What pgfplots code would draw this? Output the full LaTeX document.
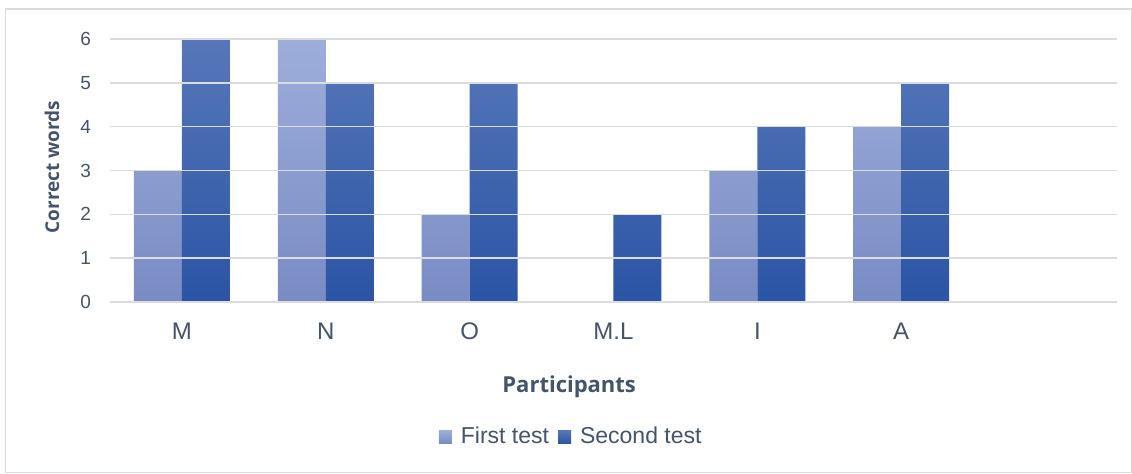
\documentclass[border=0pt]{standalone}
\usepackage{fontspec}
\setmainfont{Liberation Sans}
\newfontfamily\tfont{Open Sans}
\usepackage{pgfplots}
\pgfplotsset{compat=1.18}
\definecolor{txt}{HTML}{44546A}
\definecolor{gridc}{HTML}{D9DDE2}
\definecolor{aTop}{HTML}{9EAEDB}
\definecolor{aBot}{HTML}{788BC4}
\definecolor{bTop}{HTML}{5777B9}
\definecolor{bBot}{HTML}{2B54A5}
\begin{document}
\begin{tikzpicture}[x=1pt,y=1pt]
\useasboundingbox (0,0) rectangle (566,236.5);
\draw[gridc, line width=0.6pt] (2.8,0.3) rectangle (565.7,232);
\begin{axis}[
  at={(55pt,85.5pt)}, anchor=south west,
  scale only axis, width=503.5pt, height=131.5pt,
  ymin=0, ymax=6, xmin=-0.5, xmax=6.5,
  ybar=0pt, bar width=24pt,
  xtick={0,...,5}, xticklabels={M,N,O,M.L,I,A},
  ytick={0,...,6},
  axis on top,
  ymajorgrids, grid style={gridc, line width=0.75pt},
  axis x line*=bottom, axis y line*=left,
  y axis line style={draw=none},
  x axis line style={draw=gridc, line width=0.75pt, -},
  tick style={draw=none}, major tick length=0pt,
  /pgf/number format/assume math mode=true,
  yticklabel style={font=\fontsize{9.5}{11}\selectfont, text=txt, xshift=-6pt},
  xticklabel style={font=\fontsize{12}{14}\selectfont, text=txt, yshift=-7pt},
  xlabel={Participants}, ylabel={Correct words},
  xlabel style={at={(axis description cs:0.456,-0.323)}, anchor=center, font=\tfont\bfseries\fontsize{11}{13}\selectfont, text=txt},
  ylabel style={at={(axis description cs:-0.0576,0.513)}, anchor=center, rotate=0, font=\tfont\bfseries\fontsize{9.5}{11}\selectfont, text=txt},
  legend style={at={(0.459,-0.513)}, anchor=center, draw=none, fill=none,
    legend columns=2, font=\fontsize{11.5}{13}\selectfont, text=txt,
    /tikz/every even column/.append style={column sep=2.5pt},
    legend cell align=left, inner sep=0pt},
  legend image code/.code={\path[#1] (0pt,-3.3pt) rectangle (6.5pt,3.3pt); \path (9pt,0pt);},
]
\addplot[draw=none, top color=aTop, bottom color=aBot] coordinates {(0,3) (1,6) (2,2) (3,0) (4,3) (5,4)};
\addplot[draw=none, top color=bTop, bottom color=bBot] coordinates {(0,6) (1,5) (2,5) (3,2) (4,4) (5,5)};
\legend{First test, Second test}
\end{axis}
\end{tikzpicture}
\end{document}
